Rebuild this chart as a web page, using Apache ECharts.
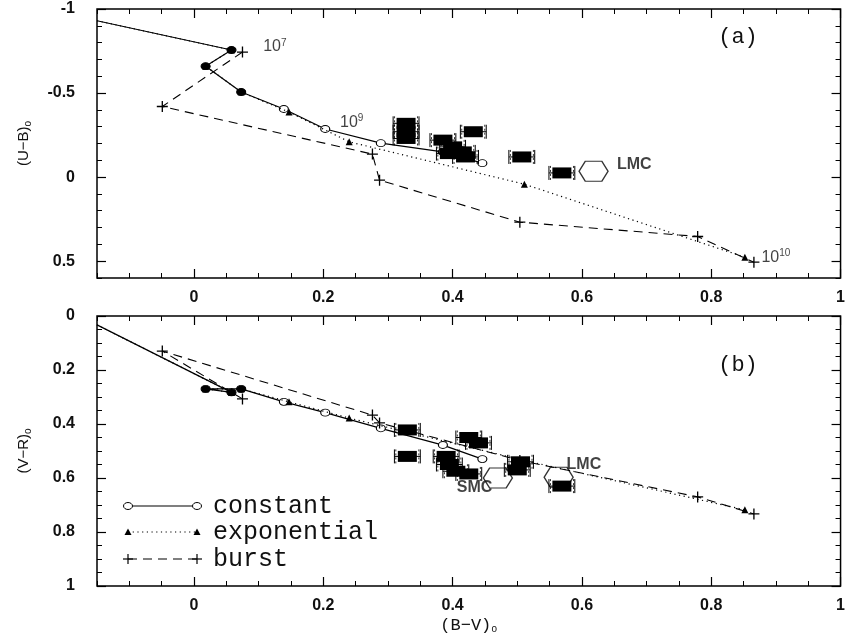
<!DOCTYPE html>
<html>
<head>
<meta charset="utf-8">
<script src="https://cdn.jsdelivr.net/npm/echarts@6/dist/echarts.min.js"></script>
<style>
html, body { margin: 0; padding: 0; background: #fff; }
#chart { width: 848px; height: 638px; }
</style>
</head>
<body>
<div id="chart"></div>
<script>
// model tracks (same B-V for both panels)
var bvConstant = [-0.15, 0.058, 0.018, 0.073, 0.139, 0.203, 0.289, 0.385, 0.446];
var ubConstant = [-0.93, -0.756, -0.66, -0.506, -0.405, -0.286, -0.202, -0.15, -0.083];
var vrConstant = [0.033, 0.283, 0.27, 0.27, 0.318, 0.358, 0.416, 0.478, 0.53];
var filledConstant = [0, 1, 1, 1, 0, 0, 0, 0, 0];

var bvExponential = [-0.15, 0.058, 0.018, 0.073, 0.147, 0.24, 0.511, 0.852];
var ubExponential = [-0.93, -0.756, -0.66, -0.506, -0.387, -0.21, 0.042, 0.476];
var vrExponential = [0.033, 0.283, 0.27, 0.27, 0.318, 0.378, 0.535, 0.718];

var bvBurst = [0.075, -0.049, 0.276, 0.287, 0.504, 0.779, 0.866];
var ubBurst = [-0.744, -0.42, -0.137, 0.018, 0.268, 0.353, 0.506];
var vrBurst = [0.307, 0.13, 0.367, 0.396, 0.535, 0.67, 0.733];

// observed galaxies
var obsBvA = [0.328, 0.328, 0.328, 0.385, 0.432, 0.40, 0.415, 0.42, 0.395, 0.507, 0.569];
var obsUbA = [-0.32, -0.27, -0.23, -0.22, -0.27, -0.18, -0.15, -0.12, -0.14, -0.12, -0.025];
var obsBvB = [0.33, 0.33, 0.425, 0.44, 0.39, 0.395, 0.405, 0.425, 0.505, 0.50, 0.569];
var obsVrB = [0.422, 0.52, 0.45, 0.47, 0.52, 0.55, 0.575, 0.585, 0.54, 0.57, 0.63];
var obsErr = 0.02;

// Magellanic clouds
var cloudNamesA = ['LMC'];
var cloudBvA = [0.618];
var cloudUbA = [-0.035];
var cloudLabelBvA = [0.681];
var cloudLabelUbA = [-0.077];
var cloudNamesB = ['LMC', 'SMC'];
var cloudBvB = [0.564, 0.47];
var cloudVrB = [0.597, 0.60];
var cloudLabelBvB = [0.603, 0.434];
var cloudLabelVrB = [0.552, 0.637];

// age labels on panel (a)
var ageLabels = ['10{s|7}', '10{s|9}', '10{s|10}'];
var ageBv = [0.125, 0.244, 0.9];
var ageUb = [-0.774, -0.327, 0.476];

var xTicks = [0, 0.2, 0.4, 0.6, 0.8, 1];
var ubTicks = [-1, -0.5, 0, 0.5];
var vrTicks = [0, 0.2, 0.4, 0.6, 0.8, 1];

var black = '#000';
var tickFont = { color: '#111', fontSize: 16, fontFamily: 'Liberation Sans', fontWeight: 'bold' };
var plusPath = 'path://M4.4,0H5.6V4.4H10V5.6H5.6V10H4.4V5.6H0V4.4H4.4Z';
var hexPath = 'path://M0,10L6,0L22,0L28,10L22,20L6,20Z';

function pairs(xs, ys) {
  return xs.map(function (x, i) { return [x, ys[i]]; });
}

function xAxes(grid, title) {
  var base = { type: 'value', gridIndex: grid, min: -0.15, max: 1,
    axisLine: { show: false, onZero: false }, splitLine: { show: false } };
  var major = { inside: true, length: 9, customValues: xTicks, lineStyle: { color: black, width: 1.2 } };
  var minor = { inside: true, length: 5, lineStyle: { color: black, width: 1 } };
  var axes = [
    Object.assign({}, base, { position: 'bottom', axisTick: major,
      axisLabel: Object.assign({ customValues: xTicks, margin: 12 }, tickFont) }),
    Object.assign({}, base, { position: 'bottom', interval: 0.05, axisTick: minor, axisLabel: { show: false } }),
    Object.assign({}, base, { position: 'top', axisTick: major, axisLabel: { show: false } }),
    Object.assign({}, base, { position: 'top', interval: 0.05, axisTick: minor, axisLabel: { show: false } })
  ];
  if (title) {
    axes[0].name = title;
    axes[0].nameLocation = 'middle';
    axes[0].nameGap = 30;
    axes[0].nameTextStyle = { color: '#111', fontSize: 17, fontFamily: 'Liberation Mono',
      rich: { s: { fontSize: 10, verticalAlign: 'bottom', padding: [8, 0, 0, 0] } } };
  }
  return axes;
}

function yAxes(grid, min, max, minorStep, ticks, title) {
  var base = { type: 'value', gridIndex: grid, min: min, max: max, inverse: true,
    axisLine: { show: false, onZero: false }, splitLine: { show: false } };
  var major = { inside: true, length: 9, customValues: ticks, lineStyle: { color: black, width: 1.2 } };
  var minor = { inside: true, length: 5, lineStyle: { color: black, width: 1 } };
  return [
    Object.assign({}, base, { position: 'left', axisTick: major,
      axisLabel: Object.assign({ customValues: ticks, margin: 22 }, tickFont),
      name: title, nameLocation: 'middle', nameGap: 64, nameRotate: 90,
      nameTextStyle: { color: '#111', fontSize: 15, fontFamily: 'Liberation Sans',
        rich: { s: { fontSize: 10, verticalAlign: 'bottom', padding: [8, 0, 0, 0] } } } }),
    Object.assign({}, base, { position: 'left', interval: minorStep, axisTick: minor, axisLabel: { show: false } }),
    Object.assign({}, base, { position: 'right', axisTick: major, axisLabel: { show: false } }),
    Object.assign({}, base, { position: 'right', interval: minorStep, axisTick: minor, axisLabel: { show: false } })
  ];
}

function modelSeries(ax, ys) {
  var constant = {
    type: 'line', xAxisIndex: ax, yAxisIndex: ax, animation: false, z: 3,
    lineStyle: { color: black, width: 1.2 }, itemStyle: { color: black },
    data: bvConstant.map(function (x, i) {
      return {
        value: [x, ys[0][i]],
        symbol: i === 0 ? 'none' : 'circle',
        symbolSize: [9, 7],
        itemStyle: { color: filledConstant[i] ? black : '#fff', borderColor: black, borderWidth: 1 }
      };
    })
  };
  var expo = {
    type: 'line', xAxisIndex: ax, yAxisIndex: ax, animation: false, z: 4,
    lineStyle: { color: black, width: 1.2, type: [1.2, 3.5] }, itemStyle: { color: black },
    symbol: 'triangle', symbolSize: 7,
    data: bvExponential.map(function (x, i) {
      return { value: [x, ys[1][i]], symbol: i === 0 ? 'none' : 'triangle' };
    })
  };
  var burst = {
    type: 'line', xAxisIndex: ax, yAxisIndex: ax, animation: false, z: 4,
    lineStyle: { color: black, width: 1.1, type: [9, 6] }, itemStyle: { color: black },
    symbol: plusPath, symbolSize: 11,
    data: pairs(bvBurst, ys[2])
  };
  return [constant, expo, burst];
}

function boxSeries(ax, xs, ys) {
  return {
    type: 'custom', xAxisIndex: ax, yAxisIndex: ax, animation: false, z: 5,
    encode: { x: 0, y: 1 },
    data: xs.map(function (x, i) { return [x, ys[i], obsErr]; }),
    renderItem: function (params, api) {
      var c = api.coord([api.value(0), api.value(1)]);
      var l = api.coord([api.value(0) - api.value(2), api.value(1)])[0];
      var r = api.coord([api.value(0) + api.value(2), api.value(1)])[0];
      var hw = 9.5, hh = 5.5, ch = 7;
      var st = { stroke: black, lineWidth: 1 };
      var thin = { stroke: black, lineWidth: 0.8, lineDash: [2, 2] };
      return { type: 'group', children: [
        { type: 'line', shape: { x1: l, y1: c[1], x2: r, y2: c[1] }, style: st },
        { type: 'line', shape: { x1: l, y1: c[1] - ch, x2: l, y2: c[1] + ch }, style: st },
        { type: 'line', shape: { x1: r, y1: c[1] - ch, x2: r, y2: c[1] + ch }, style: st },
        { type: 'line', shape: { x1: c[0] - hw - 2, y1: c[1] - ch, x2: c[0] - hw - 2, y2: c[1] + ch }, style: thin },
        { type: 'line', shape: { x1: c[0] + hw + 2, y1: c[1] - ch, x2: c[0] + hw + 2, y2: c[1] + ch }, style: thin },
        { type: 'rect', shape: { x: c[0] - hw, y: c[1] - hh, width: 2 * hw, height: 2 * hh }, style: { fill: black } }
      ] };
    }
  };
}

function hexSeries(ax, xs, ys) {
  return {
    type: 'scatter', xAxisIndex: ax, yAxisIndex: ax, animation: false, z: 6,
    symbol: hexPath, symbolSize: [29, 20],
    itemStyle: { color: 'rgba(0,0,0,0)', borderColor: black, borderWidth: 1.2 },
    data: pairs(xs, ys)
  };
}

function textSeries(ax, xs, ys, texts, style) {
  return {
    type: 'scatter', xAxisIndex: ax, yAxisIndex: ax, animation: false, z: 7, silent: true,
    symbolSize: 1, itemStyle: { color: 'rgba(0,0,0,0)' },
    label: Object.assign({ show: true, position: 'inside', color: '#111',
      formatter: function (p) { return texts[p.dataIndex]; } }, style),
    data: pairs(xs, ys)
  };
}

var sansLabel = { fontSize: 16, fontFamily: 'Liberation Sans', fontWeight: 'bold' };
var ageStyle = { fontSize: 16, fontFamily: 'Liberation Sans', lineHeight: 18,
  rich: { s: { fontSize: 10, verticalAlign: 'top', lineHeight: 10 } } };

var series = []
  .concat(modelSeries(0, [ubConstant, ubExponential, ubBurst]))
  .concat([boxSeries(0, obsBvA, obsUbA), hexSeries(0, cloudBvA, cloudUbA),
    textSeries(0, cloudLabelBvA, cloudLabelUbA, cloudNamesA, sansLabel),
    textSeries(0, ageBv, ageUb, ageLabels, ageStyle)])
  .concat(modelSeries(4, [vrConstant, vrExponential, vrBurst]))
  .concat([boxSeries(4, obsBvB, obsVrB), hexSeries(4, cloudBvB, cloudVrB),
    textSeries(4, cloudLabelBvB, cloudLabelVrB, cloudNamesB, sansLabel)]);

// legend key drawn inside panel (b)
var keyFont = { fontSize: 25, fontFamily: 'Liberation Mono', fill: '#111', verticalAlign: 'middle' };
var keyRows = [
  { label: 'constant', y: 506 },
  { label: 'exponential', y: 532 },
  { label: 'burst', y: 559 }
];
var keyGraphics = [];
keyRows.forEach(function (row, k) {
  var dash = k === 0 ? null : (k === 1 ? [1.2, 3.5] : [9, 6]);
  keyGraphics.push({ type: 'line', shape: { x1: 128, y1: row.y, x2: 197, y2: row.y },
    style: { stroke: black, lineWidth: 1.2, lineDash: dash } });
  [128, 197].forEach(function (px) {
    if (k === 0) {
      keyGraphics.push({ type: 'ellipse', shape: { cx: px, cy: row.y, rx: 4.5, ry: 3.5 },
        style: { fill: '#fff', stroke: black, lineWidth: 1 } });
    } else if (k === 1) {
      keyGraphics.push({ type: 'polygon', shape: { points: [[px - 3.5, row.y + 3], [px + 3.5, row.y + 3], [px, row.y - 3.5]] },
        style: { fill: black } });
    } else {
      keyGraphics.push({ type: 'line', shape: { x1: px - 5, y1: row.y, x2: px + 5, y2: row.y }, style: { stroke: black, lineWidth: 1.2 } });
      keyGraphics.push({ type: 'line', shape: { x1: px, y1: row.y - 5, x2: px, y2: row.y + 5 }, style: { stroke: black, lineWidth: 1.2 } });
    }
  });
  keyGraphics.push({ type: 'text', x: 213, y: row.y, style: Object.assign({ text: row.label }, keyFont) });
});
keyGraphics.push({ type: 'text', x: 738, y: 37, style: { text: '(a)', fontSize: 22, fontFamily: 'Liberation Mono', fill: '#111', align: 'center', verticalAlign: 'middle' } });
keyGraphics.push({ type: 'text', x: 738, y: 365, style: { text: '(b)', fontSize: 22, fontFamily: 'Liberation Mono', fill: '#111', align: 'center', verticalAlign: 'middle' } });

var chart = echarts.init(document.getElementById('chart'), null, { renderer: 'canvas' });
chart.setOption({
  backgroundColor: '#fff',
  animation: false,
  grid: [
    { left: 97, top: 9, width: 749, height: 269, show: true, borderColor: black, borderWidth: 1.5, backgroundColor: 'transparent' },
    { left: 97, top: 316, width: 749, height: 270, show: true, borderColor: black, borderWidth: 1.5, backgroundColor: 'transparent' }
  ],
  xAxis: xAxes(0, null).concat(xAxes(1, '(B\u2212V){s|o}')),
  yAxis: yAxes(0, -1, 0.6, 0.1, ubTicks, '(U\u2212B){s|o}').concat(yAxes(1, 0, 1, 0.05, vrTicks, '(V\u2212R){s|o}')),
  graphic: keyGraphics,
  series: series
});
</script>
</body>
</html>
